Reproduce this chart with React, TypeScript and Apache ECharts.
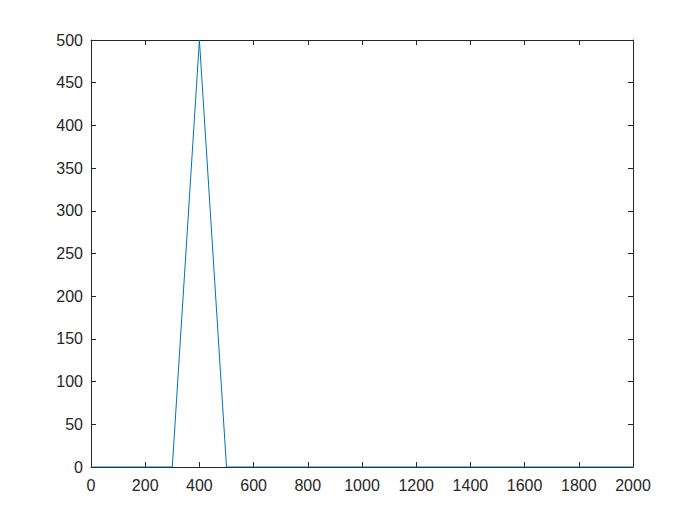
import React, { useEffect, useRef } from "react";
import * as echarts from "echarts";

const xValues = [0, 100, 200, 300, 400, 500, 600, 700, 800, 900, 1000, 1100, 1200, 1300, 1400, 1500, 1600, 1700, 1800, 1900, 2000];
const yValues = [0, 0, 0, 0, 500, 0, 0, 0, 0, 0, 0, 0, 0, 0, 0, 0, 0, 0, 0, 0, 0];

const axisColor = "#262626";
const font = "Liberation Sans, Arial, Helvetica, sans-serif";

export default function App() {
  const ref = useRef<HTMLDivElement>(null);
  useEffect(() => {
    const chart = echarts.init(ref.current!, null, { renderer: "svg" });
    const mkX = (pos: "bottom" | "top", labels: boolean) => ({
      type: "value",
      position: pos,
      min: 0,
      max: 2000,
      interval: 200,
      axisLine: { show: true, onZero: false, lineStyle: { color: axisColor, width: 1 } },
      axisTick: { show: true, inside: true, length: 5, lineStyle: { color: axisColor } },
      axisLabel: { show: labels, color: axisColor, fontSize: 16, fontFamily: font, margin: 10, formatter: (v: number) => String(v) },
      splitLine: { show: false },
    });
    const mkY = (pos: "left" | "right", labels: boolean) => ({
      type: "value",
      position: pos,
      min: 0,
      max: 500,
      interval: 50,
      axisLine: { show: true, onZero: false, lineStyle: { color: axisColor, width: 1 } },
      axisTick: { show: true, inside: true, length: 5, lineStyle: { color: axisColor } },
      axisLabel: { show: labels, color: axisColor, fontSize: 16, fontFamily: font, margin: 8, formatter: (v: number) => String(v) },
      splitLine: { show: false },
    });
    chart.setOption({
      animation: false,
      backgroundColor: "#ffffff",
      grid: { left: 91, right: 67, top: 40, bottom: 58, containLabel: false },
      xAxis: [mkX("bottom", true), mkX("top", false)],
      yAxis: [mkY("left", true), mkY("right", false)],
      series: [
        {
          type: "line",
          data: xValues.map((x, i) => [x, yValues[i]]),
          showSymbol: false,
          symbol: "none",
          lineStyle: { color: "#0072BD", width: 1 },
          xAxisIndex: 0,
          yAxisIndex: 0,
        },
      ],
    });
    return () => chart.dispose();
  }, []);
  return (
    <div
      ref={ref}
      style={{ position: "fixed", left: 0, top: 0, width: 700, height: 525 }}
    />
  );
}
